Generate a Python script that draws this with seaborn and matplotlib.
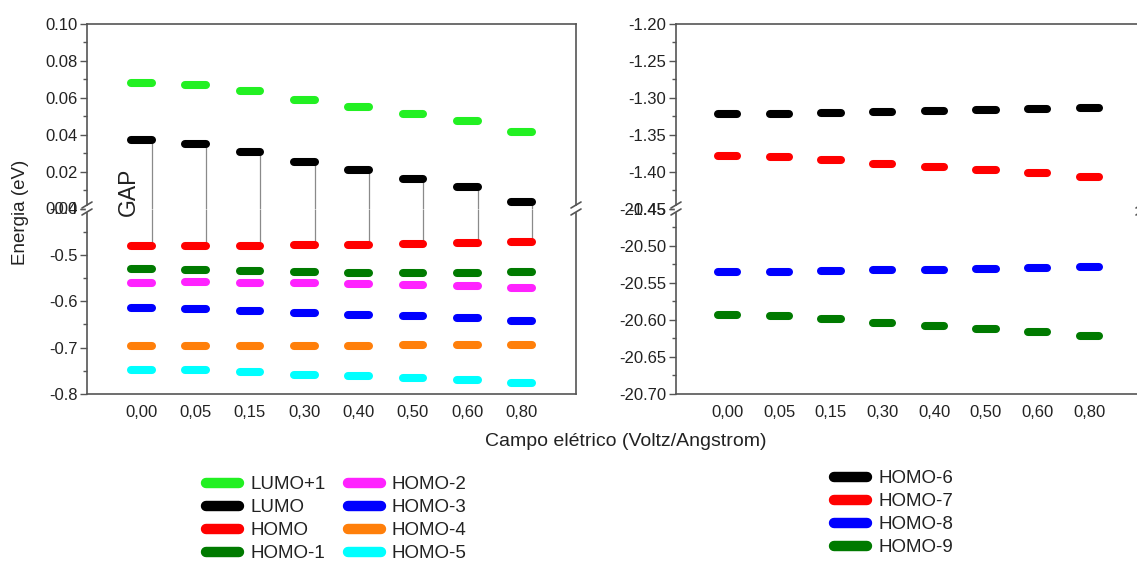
import numpy as np
import pandas as pd
import matplotlib
matplotlib.use("Agg")
import matplotlib.pyplot as plt
from matplotlib.lines import Line2D
from matplotlib.ticker import MultipleLocator, FormatStrFormatter
import seaborn as sns

# ---------------- data ----------------
fields = ["0,00", "0,05", "0,15", "0,30", "0,40", "0,50", "0,60", "0,80"]

lumo_p1 = [0.068, 0.067, 0.0636, 0.0586, 0.0548, 0.0513, 0.0476, 0.0417]
lumo    = [0.0369, 0.0348, 0.0308, 0.0250, 0.0206, 0.0161, 0.0117, 0.0036]
homo    = [-0.4815, -0.4815, -0.480, -0.4787, -0.478, -0.4758, -0.475, -0.4727]
homo_1  = [-0.5314, -0.533, -0.535, -0.538, -0.5387, -0.5387, -0.5387, -0.538]
homo_2  = [-0.560, -0.5593, -0.5608, -0.5615, -0.563, -0.5644, -0.5666, -0.571]
homo_3  = [-0.615, -0.6165, -0.620, -0.6253, -0.629, -0.6325, -0.636, -0.642]
homo_4  = [-0.697, -0.697, -0.697, -0.6963, -0.6956, -0.6948, -0.6948, -0.6934]
homo_5  = [-0.7475, -0.749, -0.7527, -0.758, -0.7615, -0.766, -0.7695, -0.776]

homo_6  = [-1.3214, -1.3214, -1.320, -1.3191, -1.3178, -1.3164, -1.3155, -1.3137]
homo_7  = [-1.3787, -1.380, -1.3846, -1.390, -1.3937, -1.3978, -1.4019, -1.4078]
homo_8  = [-20.5362, -20.536, -20.5348, -20.5334, -20.5326, -20.532, -20.5307, -20.5293]
homo_9  = [-20.5931, -20.5945, -20.599, -20.604, -20.6082, -20.6124, -20.616, -20.6224]

left_names = ["LUMO+1", "LUMO", "HOMO", "HOMO-1", "HOMO-2", "HOMO-3", "HOMO-4", "HOMO-5"]
left_values = [lumo_p1, lumo, homo, homo_1, homo_2, homo_3, homo_4, homo_5]
right_names = ["HOMO-6", "HOMO-7", "HOMO-8", "HOMO-9"]
right_values = [homo_6, homo_7, homo_8, homo_9]

colors = {
    "LUMO+1": "#22f022", "LUMO": "#000000", "HOMO": "#ff0000", "HOMO-1": "#007a00",
    "HOMO-2": "#ff22ff", "HOMO-3": "#0000ff", "HOMO-4": "#ff7f0a", "HOMO-5": "#00ffff",
    "HOMO-6": "#000000", "HOMO-7": "#ff0000", "HOMO-8": "#0000ff", "HOMO-9": "#007a00",
}

# ---------------- style ----------------
sns.set_style("ticks")
plt.rcParams["font.family"] = ["Liberation Sans", "DejaVu Sans"]
plt.rcParams["text.color"] = "#222222"
plt.rcParams["xtick.color"] = "#333333"
plt.rcParams["ytick.color"] = "#333333"
plt.rcParams["xtick.labelcolor"] = "#222222"
plt.rcParams["ytick.labelcolor"] = "#222222"

W, H = 1137, 565
fig = plt.figure(figsize=(W / 100, H / 100), dpi=100)

HW = 0.19  # half length of each level segment (category units)
SPINE = "#555555"


def fx(px):
    return px / W


def fy(py):
    return 1 - py / H


def long_df(names, values):
    rows = []
    for name, vals in zip(names, values):
        for i, v in enumerate(vals):
            u = f"{name}_{i}"
            rows.append((i - HW, v, name, u))
            rows.append((i + HW, v, name, u))
    return pd.DataFrame(rows, columns=["x", "y", "level", "unit"])


def make_panel(x0, x1, top, mid, bottom, names, values, ylim_top, ylim_bot,
               major_top, major_bot, fmt_top, fmt_bot):
    ax_t = fig.add_axes([fx(x0), fy(mid), fx(x1) - fx(x0), fy(top) - fy(mid)])
    ax_b = fig.add_axes([fx(x0), fy(bottom), fx(x1) - fx(x0), fy(mid) - fy(bottom)])
    df = long_df(names, values)
    for ax, lim, major, fmt in ((ax_t, ylim_top, major_top, fmt_top),
                                (ax_b, ylim_bot, major_bot, fmt_bot)):
        sub = df[(df["y"] >= lim[0]) & (df["y"] <= lim[1])]
        sns.lineplot(data=sub, x="x", y="y", hue="level", units="unit",
                     estimator=None, sort=False, palette=colors,
                     linewidth=5.8, solid_capstyle="round", legend=False,
                     ax=ax, zorder=3)
        ax.set_xlim(-1, 8)
        ax.set_ylim(*lim)
        ax.set_xlabel("")
        ax.set_ylabel("")
        ax.yaxis.set_major_locator(MultipleLocator(major))
        ax.yaxis.set_minor_locator(MultipleLocator(major / 2))
        ax.yaxis.set_major_formatter(FormatStrFormatter(fmt))
        ax.tick_params(axis="y", which="major", direction="out", length=5,
                       width=1, labelsize=12, color=SPINE, pad=2)
        ax.tick_params(axis="y", which="minor", direction="out", length=3,
                       width=1, color=SPINE)
        for s in ax.spines.values():
            s.set_color(SPINE)
            s.set_linewidth(1.2)
        ax.set_facecolor("none")
    ax_t.spines["bottom"].set_visible(False)
    ax_b.spines["top"].set_visible(False)
    ax_t.set_xticks([])
    ax_b.set_xticks(range(len(fields)))
    ax_b.set_xticklabels(fields)
    ax_b.tick_params(axis="x", length=0, labelsize=12, pad=8)
    return ax_t, ax_b


def break_marks(xpx, ypx):
    for dy in (-3.5, 3.5):
        fig.add_artist(Line2D([fx(xpx - 5), fx(xpx + 5)],
                              [fy(ypx + dy + 3), fy(ypx + dy - 3)],
                              color=SPINE, lw=1.2, zorder=10))
    fig.add_artist(plt.Polygon([(fx(xpx - 1.5), fy(ypx + 2.5)), (fx(xpx + 1.5), fy(ypx + 2.5)),
                                (fx(xpx + 1.5), fy(ypx - 2.5)), (fx(xpx - 1.5), fy(ypx - 2.5))],
                               closed=True, color="white", zorder=9))


TOP, MID, BOT = 24, 208.5, 394

# left panel
axLt, axLb = make_panel(87, 576, TOP, MID, BOT, left_names, left_values,
                        (0.0, 0.10), (-0.8, -0.4), 0.02, 0.1, "%.2f", "%.1f")
# right panel
axRt, axRb = make_panel(676, 1141, TOP, MID, BOT, right_names, right_values,
                        (-1.45, -1.20), (-20.70, -20.45), 0.05, 0.05, "%.2f", "%.2f")

# GAP lines (LUMO -> HOMO)
for i, (lu, ho) in enumerate(zip(lumo, homo)):
    axLt.vlines(i + HW, 0.0, lu, color="#8a8a8a", lw=0.9, zorder=2)
    axLb.vlines(i + HW, ho, -0.4, color="#8a8a8a", lw=0.9, zorder=2)

fig.text(fx(128), fy(192), "GAP", rotation=90, ha="center", va="center", fontsize=16.5)

break_marks(87, MID)
break_marks(576, MID)
break_marks(676, MID)
break_marks(1141, MID)

fig.text(fx(21), fy(212), "Energia (eV)", rotation=90, ha="center", va="center", fontsize=13.5)
fig.text(fx(626), fy(441), "Campo elétrico (Voltz/Angstrom)", ha="center", va="center", fontsize=14)

# legends
def handles(names):
    return [Line2D([0], [0], color=colors[n], lw=7.5, solid_capstyle="round") for n in names]

fig.legend(handles(left_names), left_names, ncol=2, frameon=False,
           loc="upper left", bbox_to_anchor=(fx(206), fy(476)),
           fontsize=13.5, handlelength=1.75, handletextpad=0.6, columnspacing=1.2,
           labelspacing=0.32, borderaxespad=0, borderpad=0)
fig.legend(handles(right_names), right_names, ncol=1, frameon=False,
           loc="upper left", bbox_to_anchor=(fx(834), fy(470)),
           fontsize=13.5, handlelength=1.75, handletextpad=0.6,
           labelspacing=0.32, borderaxespad=0, borderpad=0)

fig.savefig("out.png", dpi=100, facecolor="white")
